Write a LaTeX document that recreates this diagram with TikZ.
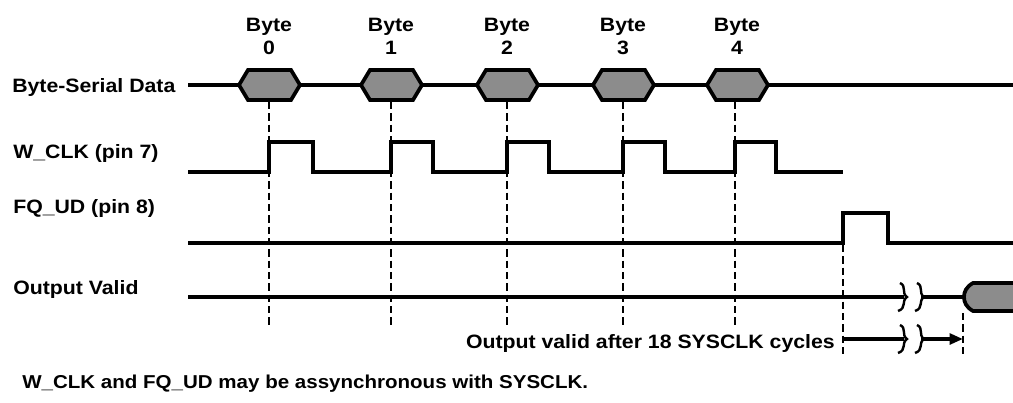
\documentclass[tikz,border=0pt]{standalone}
\usepackage{fontspec}
\setmainfont{Liberation Sans}[FakeStretch=1.1]
\usetikzlibrary{arrows.meta}
\begin{document}
\begin{tikzpicture}[x=0.75pt,y=-0.75pt,
  sig/.style={line width=2.6pt, line join=miter},
  guide/.style={line width=1.1pt, dash pattern=on 5.5pt off 3pt},
  lbl/.style={font=\fontsize{14.5pt}{17pt}\selectfont\bfseries, inner sep=0pt},
  bus/.style={line width=2.8pt, line join=miter, fill=black!45},
  brk/.style={line width=1.8pt}]
\useasboundingbox (0,0) rectangle (1013,403);
% signal labels
\node[lbl, anchor=base west] (lData) at (12,93) {Byte-Serial Data};
\node[lbl, anchor=base west] (lWclk) at (13,158) {W\_CLK (pin 7)};
\node[lbl, anchor=base west] (lFq) at (13,213) {FQ\_UD (pin 8)};
\node[lbl, anchor=base west] (lOut) at (13,294) {Output Valid};
% byte-serial data
\draw[sig] (188,85) -- (1013,85);
\foreach \c/\d/\n in {269/269/0,391/391/1,507/507/2,623/623/3,737/735/4}{
  \node[lbl, anchor=base] (byte\n) at (\c,32) {Byte};
  \node[lbl, anchor=base] (num\n) at (\c,55) {\n};
  \draw[bus] (\c-30,85) -- (\c-21,70) -- (\c+22,70) -- (\c+31,85) -- (\c+22,100) -- (\c-21,100) -- cycle;
  \draw[guide] (\d,102) -- (\d,326);
}
% W_CLK
\draw[sig] (188,172) -- (269,172) -- (269,142) -- (313,142) -- (313,172)
  -- (391,172) -- (391,142) -- (433,142) -- (433,172)
  -- (507,172) -- (507,142) -- (549,142) -- (549,172)
  -- (623,172) -- (623,142) -- (665,142) -- (665,172)
  -- (735,172) -- (735,142) -- (776,142) -- (776,172) -- (843,172);
% FQ_UD
\draw[sig] (188,243) -- (843,243) -- (843,213) -- (888,213) -- (888,243) -- (1013,243);
% Output valid
\draw[sig] (188,297) -- (904,297);
\draw[sig] (921,297) -- (964,297);
\draw[bus] (1025,283) -- (973,283) .. controls (966,287) and (964,292) .. (964,297)
  .. controls (964,302) and (966,307) .. (973,311) -- (1025,311);
% guides
\coordinate (fqr) at (843,245);
\coordinate (fqb) at (843,354);
\draw[guide] (fqr) -- (fqb);
\coordinate (ovt) at (963,313);
\coordinate (ovb) at (963,354);
\draw[guide] (ovt) -- (ovb);
% delay arrow
\node[lbl, anchor=base east] (delay) at (835,348) {Output valid after 18 SYSCLK cycles};
\coordinate (a0) at (843,339);
\coordinate (a1) at (904,339);
\coordinate (a2) at (921,339);
\coordinate (a3) at (963,339);
\draw[sig] (a0) -- (a1);
\draw[sig, -{Triangle[length=10pt,width=8pt]}] (a2) -- (a3);
% break marks
\foreach \x in {904,921}{
  \foreach \y in {297,339}{
    \draw[brk] (\x-4,\y-14) .. controls (\x+3,\y-11) and (\x-3,\y-4) .. (\x+3,\y)
      .. controls (\x-3,\y+4) and (\x+3,\y+11) .. (\x-6,\y+14);
  }
}
% footnote
\node[lbl, anchor=base west, font=\fontsize{14pt}{17pt}\selectfont\bfseries] (note) at (22,388) {W\_CLK and FQ\_UD may be assynchronous with SYSCLK.};
\end{tikzpicture}
\end{document}
